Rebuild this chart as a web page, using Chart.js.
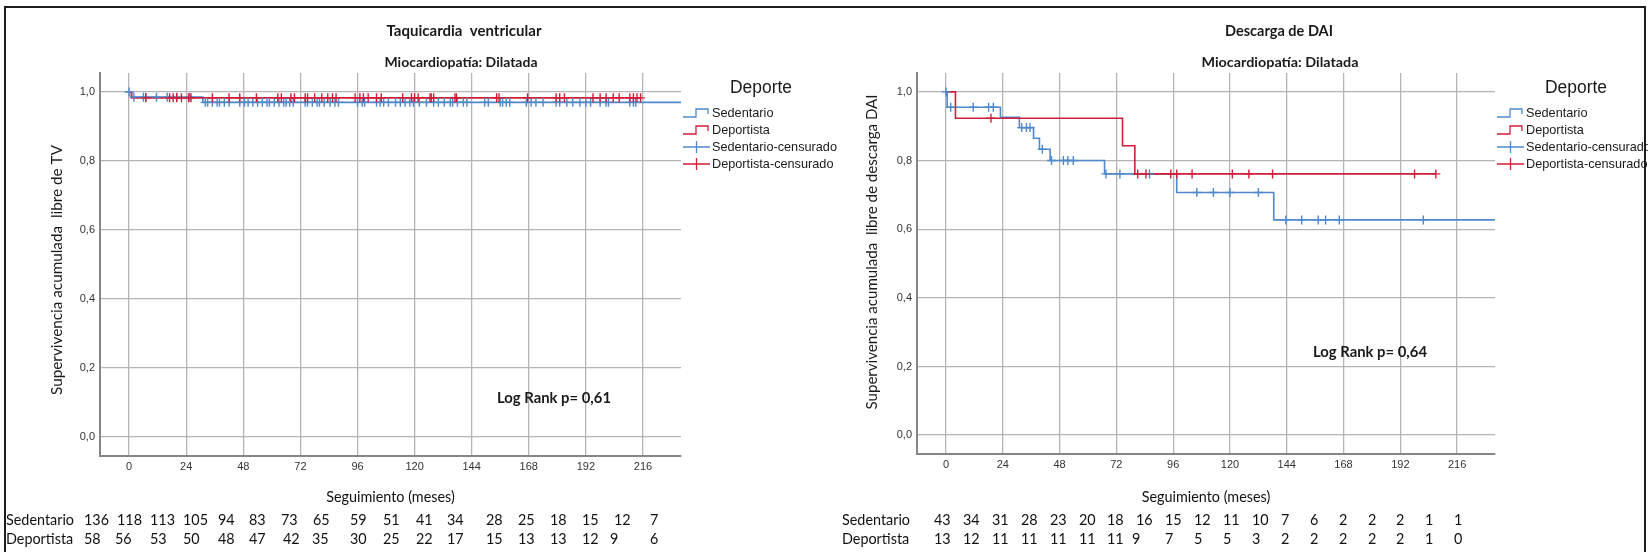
<!DOCTYPE html>
<html>
<head>
<meta charset="utf-8">
<script src="https://cdn.jsdelivr.net/npm/chart.js@4.4.1/dist/chart.umd.min.js"></script>
<style>
  html, body { margin: 0; padding: 0; background: #fff; }
  #page { position: relative; width: 1648px; height: 552px; overflow: hidden; background: #fff; }
  #frame { position: absolute; left: 4px; top: 6px; width: 1642px; height: 600px; border: 2px solid #1e1e1e; box-sizing: border-box; }
  .panel { position: absolute; top: 0; height: 552px; }
  canvas { display: block; }
</style>
</head>
<body>
<div id="page">
  <div id="frame"></div>
  <div class="panel" style="left:0;width:860px"><canvas id="chartTV" width="860" height="552"></canvas></div>
  <div class="panel" style="left:824px;width:824px"><canvas id="chartDAI" width="824" height="552"></canvas></div>
</div>
<script>
// ---- shared axis ticks and labels ----
const xTicks = [0, 24, 48, 72, 96, 120, 144, 168, 192, 216];
const yTicks = [0, 0.2, 0.4, 0.6, 0.8, 1.0];
const groupNames = ['Sedentario', 'Deportista'];
const legendLabels = ['Sedentario', 'Deportista', 'Sedentario-censurado', 'Deportista-censurado'];

// ---- Taquicardia ventricular: Kaplan-Meier steps (month, survival) ----
const tvSedTimes = [0, 1, 31, 232];
const tvSedSurv  = [1, 0.985, 0.970, 0.970];
const tvDepTimes = [0, 1, 215];
const tvDepSurv  = [1, 0.983, 0.983];
const tvSedCensored = [0, 2, 6, 7, 11.5, 16, 20, 25.5, 32, 33, 35, 37, 38, 40, 42, 46.5, 48.5, 50, 52, 54, 56, 58,
  59, 61, 63, 65, 66, 67.5, 69, 74, 75, 77, 79, 80, 82, 84.5, 86.5, 88, 96, 98, 99, 104, 105.5, 107, 109, 112, 114,
  116, 118, 119.5, 122, 125, 128, 130, 132.5, 135, 136, 138, 140.5, 142, 149.5, 151, 156, 157, 158.5, 160, 167, 169,
  171, 174, 179.5, 181, 184, 186.5, 189.5, 192, 194, 198, 200.5, 201.5, 210.5, 212, 213];
const tvDepCensored = [7, 17, 18.5, 20, 22, 25, 26, 35, 42, 46.5, 53.5, 62.5, 64, 68, 69.5, 74, 75, 78, 81, 83.5,
  85.5, 87, 95, 97, 98.5, 100.5, 104, 106, 115, 118.7, 120, 121.5, 126.5, 127, 128, 137, 137.6, 154.5, 155.5, 167.5,
  179.5, 181, 183, 195, 198, 200.5, 203.5, 206, 210.5, 212, 213.5, 215];
const tvSedRisk = [136, 118, 113, 105, 94, 83, 73, 65, 59, 51, 41, 34, 28, 25, 18, 15, 12, 7];
const tvDepRisk = [58, 56, 53, 50, 48, 47, 42, 35, 30, 25, 22, 17, 15, 13, 13, 12, 9, 6];
const tvLogRank = 'Log Rank p= 0,61';

// ---- Descarga de DAI: Kaplan-Meier steps (month, survival) ----
const daiSedTimes = [0, 0.5, 23, 31, 37, 39.5, 44, 67, 97.5, 138.5, 232];
const daiSedSurv  = [1, 0.955, 0.926, 0.896, 0.865, 0.833, 0.800, 0.761, 0.707, 0.627, 0.627];
const daiDepTimes = [0, 4, 74.6, 79.8, 207];
const daiDepSurv  = [1, 0.923, 0.843, 0.761, 0.761];
const daiSedCensored = [0, 2, 11.5, 18, 20, 32, 34, 35.5, 40.7, 44.6, 49.6, 51.5, 53.8, 67.6, 73.5, 86, 106, 113, 120,
  132, 143.6, 150.3, 157.3, 160.4, 166.2, 201.7];
const daiDepCensored = [19, 81, 84.5, 95, 97.5, 104, 121, 128, 138, 198, 207];
const daiSedRisk = [43, 34, 31, 28, 23, 20, 18, 16, 15, 12, 11, 10, 7, 6, 2, 2, 2, 1, 1];
const daiDepRisk = [13, 12, 11, 11, 11, 11, 11, 9, 7, 5, 5, 3, 2, 2, 2, 2, 2, 1, 0];
const daiLogRank = 'Log Rank p= 0,64';

// ---- page x of each free-text numbers-at-risk column ----
const tvSedRiskX = [84, 117, 150, 183, 218, 249, 281, 313, 350, 383, 416, 447, 486, 518, 550, 582, 614, 650];
const tvDepRiskX = [84, 115, 150, 183, 218, 249, 283, 312, 350, 383, 416, 447, 486, 518, 550, 582, 610, 650];
const daiSedRiskX = [934, 963, 992, 1021, 1050, 1079, 1107, 1136, 1165, 1194, 1223, 1252, 1281, 1310, 1339, 1368, 1396, 1425, 1454];
const daiDepRiskX = [934, 963, 992, 1021, 1050, 1079, 1107, 1132, 1165, 1194, 1223, 1252, 1281, 1310, 1339, 1368, 1396, 1425, 1454];

const BLUE = '#4f89cc';
const RED = '#cf1f3b';
const GRID = '#b4b4b8';
const AXIS = '#86868a';
const SANS = 'Lato, "Open Sans", sans-serif';
const ARIAL = '"Liberation Sans", Arial, sans-serif';

function survivalAt(times, surv, t) {
  let v = surv[0];
  for (let i = 0; i < times.length; i++) { if (times[i] <= t) v = surv[i]; }
  return v;
}

// draw text stretched horizontally so that it spans `width` pixels
function fitText(ctx, text, x, y, font, width, align) {
  ctx.font = font;
  const k = width / ctx.measureText(text).width;
  scaledText(ctx, text, x, y, font, k, align);
}
function scaledText(ctx, text, x, y, font, k, align) {
  ctx.font = font;
  ctx.save();
  ctx.translate(x, y);
  ctx.scale(k, 1);
  ctx.textAlign = align;
  ctx.fillText(text, 0, 0);
  ctx.restore();
}

function decorPlugin(spec) {
  return {
    id: 'decor',
    afterDraw(chart) {
      const ctx = chart.ctx;
      const ox = spec.offsetX;
      ctx.save();
      ctx.translate(-ox, 0);
      ctx.fillStyle = '#1a1a1a';
      ctx.textBaseline = 'middle';
      // titles
      fitText(ctx, spec.title, spec.titleX, 31, 'bold 15px ' + SANS, spec.titleW, 'center');
      fitText(ctx, 'Miocardiopatía: Dilatada', spec.subX, 62, 'bold 14px ' + SANS, spec.subW, 'center');
      // y axis title
      ctx.save();
      ctx.translate(spec.yTitleX, spec.yTitleY);
      ctx.rotate(-Math.PI / 2);
      fitText(ctx, spec.yTitle, 0, 0, '15px ' + SANS, spec.yTitleLen, 'center');
      ctx.restore();
      // log-rank note
      fitText(ctx, spec.logRank, spec.logRankX, spec.logRankY, 'bold 16px ' + SANS, 114, 'center');
      // legend
      fitText(ctx, 'Deporte', spec.legendTitleX + 31, 88, '17.5px ' + ARIAL, 62, 'center');
      const legFont = '13.5px ' + ARIAL;
      ctx.font = legFont;
      const kLeg = 125 / ctx.measureText(legendLabels[2]).width;
      const rowY = [113, 130, 147, 164];
      const colors = [BLUE, RED, BLUE, RED];
      const ix = spec.legendIconX;
      legendLabels.forEach((lab, i) => {
        const y = rowY[i];
        ctx.strokeStyle = colors[i];
        ctx.lineWidth = 1.3;
        ctx.beginPath();
        if (i < 2) {
          ctx.moveTo(ix, y + 4); ctx.lineTo(ix + 13, y + 4); ctx.lineTo(ix + 13, y - 4);
          ctx.lineTo(ix + 25, y - 4); ctx.lineTo(ix + 25, y + 1);
        } else {
          ctx.moveTo(ix, y); ctx.lineTo(ix + 27, y);
          ctx.moveTo(ix + 13.5, y - 6); ctx.lineTo(ix + 13.5, y + 6);
        }
        ctx.stroke();
        ctx.fillStyle = '#1a1a1a';
        scaledText(ctx, lab, ix + 29, y + 0.5, legFont, kLeg, 'left');
      });
      // x axis title and numbers at risk
      const tabFont = '16px ' + SANS;
      ctx.font = tabFont;
      const kTab = 68 / ctx.measureText(groupNames[0]).width;
      ctx.fillStyle = '#111';
      const area = chart.chartArea;
      scaledText(ctx, 'Seguimiento (meses)', ox + (area.left + area.right) / 2, 497, tabFont, kTab, 'center');
      scaledText(ctx, groupNames[0], spec.riskLabelX, 520, tabFont, kTab, 'left');
      scaledText(ctx, groupNames[1], spec.riskLabelX, 539, tabFont, kTab, 'left');
      spec.sedRisk.forEach((n, i) => scaledText(ctx, String(n), spec.sedRiskX[i], 520, tabFont, kTab, 'left'));
      spec.depRisk.forEach((n, i) => scaledText(ctx, String(n), spec.depRiskX[i], 539, tabFont, kTab, 'left'));
      ctx.restore();
    }
  };
}

function kmChart(canvasId, spec) {
  const sedLine = spec.sedTimes.map((t, i) => ({ x: t, y: spec.sedSurv[i] }));
  const depLine = spec.depTimes.map((t, i) => ({ x: t, y: spec.depSurv[i] }));
  const sedMarks = spec.sedCens.map(t => ({ x: t, y: survivalAt(spec.sedTimes, spec.sedSurv, t) }));
  const depMarks = spec.depCens.map(t => ({ x: t, y: survivalAt(spec.depTimes, spec.depSurv, t) }));
  return new Chart(document.getElementById(canvasId), {
    type: 'line',
    data: {
      datasets: [
        { label: legendLabels[0], data: sedLine, stepped: 'before', borderColor: BLUE, borderWidth: 1.6,
          pointRadius: 0, fill: false, order: 4 },
        { label: legendLabels[1], data: depLine, stepped: 'before', borderColor: RED, borderWidth: 1.6,
          pointRadius: 0, fill: false, order: 3 },
        { label: legendLabels[2], data: sedMarks, showLine: false, pointStyle: 'cross', pointRadius: 4.5,
          pointBorderWidth: 1.4, pointBorderColor: BLUE, borderColor: BLUE, order: 2 },
        { label: legendLabels[3], data: depMarks, showLine: false, pointStyle: 'cross', pointRadius: 4.5,
          pointBorderWidth: 1.4, pointBorderColor: RED, borderColor: RED, order: 1 }
      ]
    },
    options: {
      responsive: false,
      animation: false,
      events: [],
      layout: { padding: spec.padding },
      plugins: { legend: { display: false }, tooltip: { enabled: false }, title: { display: false } },
      scales: {
        x: {
          type: 'linear', min: -12.25, max: 232,
          afterBuildTicks: s => { s.ticks = xTicks.map(v => ({ value: v })); },
          afterFit: s => { s.height = 30; },
          grid: { color: GRID, lineWidth: 1.3, drawTicks: false },
          border: { display: true, color: AXIS, width: 2 },
          ticks: { autoSkip: false, maxRotation: 0, padding: 4, color: '#333',
                   font: { family: ARIAL, size: 11 }, callback: v => String(v) }
        },
        y: {
          type: 'linear', min: -0.055, max: 1.055,
          afterBuildTicks: s => { s.ticks = yTicks.map(v => ({ value: v })); },
          afterFit: s => { s.width = spec.yWidth; },
          grid: { color: GRID, lineWidth: 1.3, drawTicks: false },
          border: { display: true, color: AXIS, width: 2 },
          ticks: { autoSkip: false, padding: 5, color: '#333',
                   font: { family: ARIAL, size: 11 }, callback: v => v.toFixed(1).replace('.', ',') }
        }
      }
    },
    plugins: [decorPlugin(spec)]
  });
}

kmChart('chartTV', {
  offsetX: 0, padding: { left: 0, top: 73, right: 179, bottom: 66 }, yWidth: 100,
  sedTimes: tvSedTimes, sedSurv: tvSedSurv, depTimes: tvDepTimes, depSurv: tvDepSurv,
  sedCens: tvSedCensored, depCens: tvDepCensored,
  title: 'Taquicardia  ventricular', titleX: 464, titleW: 155, subX: 461, subW: 153,
  yTitle: 'Supervivencia acumulada  libre de TV', yTitleX: 57, yTitleY: 270, yTitleLen: 250,
  logRank: tvLogRank, logRankX: 554, logRankY: 398,
  legendTitleX: 730, legendIconX: 683,
  riskLabelX: 6, sedRisk: tvSedRisk, depRisk: tvDepRisk, sedRiskX: tvSedRiskX, depRiskX: tvDepRiskX
});

kmChart('chartDAI', {
  offsetX: 824, padding: { left: 0, top: 73, right: 153, bottom: 68 }, yWidth: 93,
  sedTimes: daiSedTimes, sedSurv: daiSedSurv, depTimes: daiDepTimes, depSurv: daiDepSurv,
  sedCens: daiSedCensored, depCens: daiDepCensored,
  title: 'Descarga de DAI', titleX: 1279, titleW: 108, subX: 1280, subW: 157,
  yTitle: 'Supervivencia acumulada  libre de descarga DAI', yTitleX: 872, yTitleY: 252, yTitleLen: 315,
  logRank: daiLogRank, logRankX: 1370, logRankY: 352,
  legendTitleX: 1545, legendIconX: 1497,
  riskLabelX: 842, sedRisk: daiSedRisk, depRisk: daiDepRisk, sedRiskX: daiSedRiskX, depRiskX: daiDepRiskX
});
</script>
</body>
</html>
